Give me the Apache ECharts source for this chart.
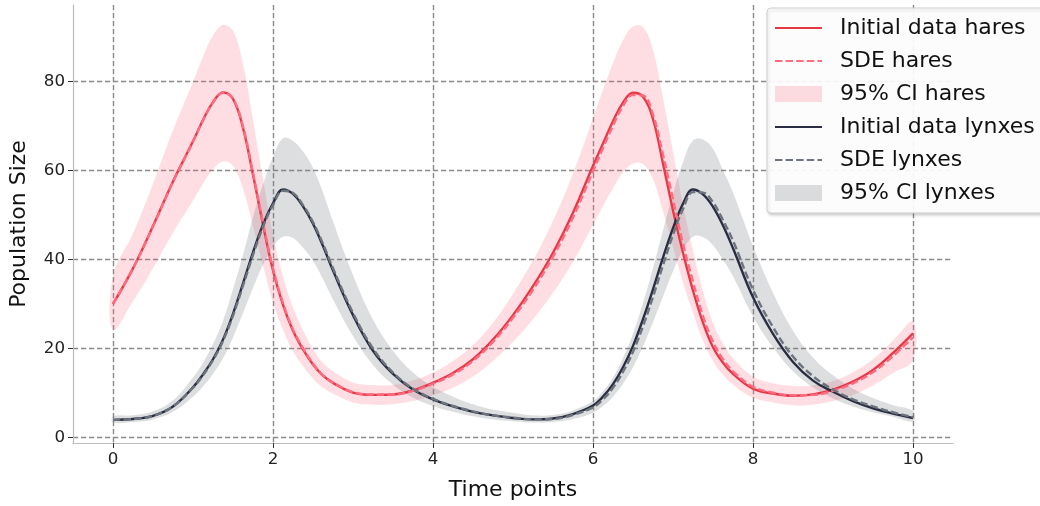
<!DOCTYPE html>
<html>
<head>
<meta charset="utf-8">
<script src="https://cdn.jsdelivr.net/npm/echarts@6/dist/echarts.min.js"></script>
<style>
html,body{margin:0;padding:0;background:#fff;}
#chart{width:1040px;height:506px;}
</style>
</head>
<body>
<div id="chart"></div>
<script>
const timePoints = [0,0.25,0.5,0.75,1,1.125,1.25,1.375,1.5,1.625,1.75,1.875,2,2.125,2.25,2.375,2.5,2.625,2.75,3,3.25,3.5,3.75,4,4.25,4.5,4.75,5,5.25,5.5,5.75,6,6.125,6.25,6.375,6.5,6.625,6.75,6.875,7,7.125,7.25,7.375,7.5,7.625,7.75,8,8.25,8.5,8.75,9,9.25,9.5,9.75,10];

const initialHares = [30.0,38.0,47.5,57.5,66.5,71.3,75.3,77.5,76.0,69.5,59.0,47.8,37.5,29.8,24.0,19.8,16.4,13.9,12.3,10.1,9.6,9.7,10.6,12.3,14.5,17.6,22.0,27.5,34.0,41.5,50.5,61.0,66.0,71.0,75.2,77.4,76.5,71.5,61.5,51.0,41.5,33.0,25.8,20.3,16.8,14.3,11.0,9.9,9.4,9.7,10.8,12.6,15.2,19.0,23.4];
const sdeHares = [30.0,38.0,47.4,57.4,66.4,71.2,75.2,77.4,76.1,69.8,59.4,48.3,38.0,30.2,24.3,20.1,16.6,14.0,12.4,10.2,9.7,9.7,10.5,12.1,14.2,17.2,21.5,26.9,33.2,40.6,49.4,59.8,65.0,70.0,74.4,76.9,76.8,72.5,63.5,53.5,43.5,35.0,27.3,21.5,17.6,14.9,11.4,10.1,9.5,9.6,10.5,12.2,14.7,18.3,22.5];
const haresLow = [24.2,30.6,38.0,46.0,53.2,57.0,60.2,62.0,61.0,55.8,47.5,38.6,30.4,24.2,19.4,16.1,13.3,11.2,9.9,7.9,7.4,7.5,8.2,9.5,11.2,13.7,17.2,21.5,26.6,32.5,39.5,47.8,52.0,56.0,59.5,61.5,61.4,58.0,50.8,42.8,34.8,28.0,21.8,17.2,14.1,11.9,9.0,7.9,7.3,7.4,8.2,9.6,11.7,14.5,17.4];
const haresHigh = [36.3,45.8,57.0,69.0,79.8,85.5,90.2,92.6,91.3,83.8,71.3,58.0,45.6,36.2,29.2,24.1,19.9,16.8,14.9,12.4,11.8,11.8,12.8,14.6,17.2,20.8,25.8,32.3,39.8,48.7,59.3,71.7,78.0,84.0,89.2,92.2,92.1,87.0,76.2,64.2,52.2,42.0,32.8,25.8,21.1,17.9,13.7,12.2,11.6,11.7,12.7,14.7,17.6,21.8,26.0];

const initialLynxes = [4.0,4.2,4.9,7.0,11.3,14.2,17.6,22.0,27.8,34.6,41.6,47.8,52.6,55.7,54.7,51.9,48.0,43.0,37.5,27.5,19.5,14.3,10.8,8.6,7.0,5.8,5.0,4.4,4.1,4.3,5.3,7.2,9.2,12.0,15.8,20.6,26.6,33.3,40.4,47.0,52.5,55.7,54.6,51.8,47.6,42.5,31.5,23.3,17.0,12.8,10.3,8.2,6.6,5.4,4.4];
const sdeLynxes = [4.0,4.2,4.9,7.0,11.2,14.0,17.4,21.7,27.4,34.1,41.0,47.3,52.2,55.4,54.9,52.2,48.4,43.5,38.0,28.0,20.0,14.6,11.0,8.7,7.1,5.9,5.0,4.5,4.1,4.2,5.1,6.8,8.6,11.2,14.8,19.3,25.0,31.6,38.7,45.5,51.3,55.1,55.0,52.8,48.8,44.2,33.2,24.8,18.2,13.8,10.8,8.6,7.0,5.7,4.6];
const lynxesLow = [3.4,3.5,4.1,5.8,9.2,11.5,14.3,17.8,22.5,28.0,33.6,38.8,42.8,45.1,44.8,42.6,39.7,35.6,31.0,22.8,16.3,11.9,9.0,7.1,5.8,4.8,4.1,3.7,3.4,3.5,4.2,5.6,7.1,9.2,12.1,15.8,20.5,25.9,31.7,37.3,42.1,45.1,45.0,43.2,39.9,36.2,27.2,20.3,14.9,11.3,8.8,7.0,5.7,4.7,3.7];
const lynxesHigh = [4.8,5.0,5.9,8.4,13.5,16.8,21.0,26.2,33.3,41.0,49.5,56.8,63.0,67.2,66.6,64.2,60.5,55.0,48.5,36.5,26.5,19.5,14.6,11.4,9.2,7.5,6.3,5.6,5.0,5.1,6.1,8.2,10.4,13.5,17.9,23.3,30.2,38.0,46.5,54.7,61.8,66.7,66.9,64.8,60.0,55.0,43.0,32.5,24.0,18.0,14.0,11.0,8.9,7.3,6.0];

const xTicks = [0,2,4,6,8,10];
const yTicks = [0,20,40,60,80];

const FONT = 'DejaVu Sans';
const RED = '#e63946';
const PINK = '#ff6b81';
const PINK_FILL = 'rgba(255,107,129,0.22)';
const NAVY = '#2b2d42';
const GRAY = '#6c757d';
const GRAY_FILL = 'rgba(108,117,125,0.24)';
const SMOOTH = 0.4;

const pairs = (ys) => timePoints.map((t, i) => [t, ys[i]]);

function band(name, lo, hi, fill) {
  return {
    name: name, type: 'custom', coordinateSystem: 'cartesian2d',
    data: [[timePoints[0], lo[0]]], clip: true, silent: true, z: 1,
    itemStyle: {color: fill},
    encode: {x: 0, y: 1},
    renderItem: function (params, api) {
      const pts = [];
      for (let i = 0; i < timePoints.length; i++) pts.push(api.coord([timePoints[i], hi[i]]));
      for (let i = timePoints.length - 1; i >= 0; i--) pts.push(api.coord([timePoints[i], lo[i]]));
      return {
        type: 'polygon',
        shape: {points: pts, smooth: SMOOTH},
        style: {fill: fill, stroke: null}
      };
    }
  };
}
function line(name, ys, color, dashed, z) {
  return {
    name: name, type: 'line', data: pairs(ys), smooth: SMOOTH, symbol: 'none',
    color: color, itemStyle: {color: color},
    lineStyle: {color: color, width: 2.4, type: dashed ? [7.4, 3.2] : 'solid'}, z: z
  };
}

const chart = echarts.init(document.getElementById('chart'), null, {renderer: 'canvas'});
const gridLine = {show: true, showMinLine: true, showMaxLine: true, lineStyle: {color: '#8a8a8a', width: 1.4, type: [5.2, 2.8]}};
const hiddenSymbol = {opacity: 0, borderWidth: 0};
chart.setOption({
  animation: false,
  backgroundColor: '#ffffff',
  textStyle: {fontFamily: FONT},
  grid: {left: 72, right: 87, top: 5, bottom: 63, containLabel: false},
  xAxis: {
    type: 'value', min: -0.5, max: 10.5,
    name: 'Time points', nameLocation: 'middle', nameGap: 36,
    nameTextStyle: {fontSize: 22, color: '#111', fontFamily: FONT},
    axisLine: {show: true, onZero: false, lineStyle: {color: '#bdbdbd', width: 1.2}},
    axisTick: {show: true, customValues: xTicks, length: 5, lineStyle: {color: '#333', width: 1}},
    axisLabel: {customValues: xTicks, fontSize: 16.7, color: '#222', margin: 8, fontFamily: FONT},
    splitLine: gridLine
  },
  yAxis: {
    type: 'value', min: -1.2, max: 97.1,
    name: 'Population Size', nameLocation: 'middle', nameGap: 43,
    nameTextStyle: {fontSize: 22, color: '#111', fontFamily: FONT},
    axisLine: {show: true, onZero: false, lineStyle: {color: '#bdbdbd', width: 1.2}},
    axisTick: {show: true, customValues: yTicks, length: 5, lineStyle: {color: '#333', width: 1}},
    axisLabel: {customValues: yTicks, fontSize: 16.7, color: '#222', margin: 8, fontFamily: FONT},
    splitLine: gridLine
  },
  legend: {
    orient: 'vertical', left: 767, top: 8,
    padding: [9, 10, 9, 7],
    itemWidth: 47, itemHeight: 16, itemGap: 11,
    backgroundColor: 'rgba(255,255,255,0.92)',
    borderColor: '#cfcfcf', borderWidth: 1, borderRadius: 4,
    shadowColor: 'rgba(0,0,0,0.18)', shadowBlur: 3, shadowOffsetX: 1, shadowOffsetY: 2,
    textStyle: {fontSize: 22, color: '#111', fontFamily: FONT, padding: [0, 0, 0, 13]},
    selectedMode: false,
    data: [
      {name: 'Initial data hares', itemStyle: hiddenSymbol},
      {name: 'SDE hares', itemStyle: hiddenSymbol},
      {name: '95% CI hares', icon: 'rect', itemStyle: {color: PINK_FILL}},
      {name: 'Initial data lynxes', itemStyle: hiddenSymbol},
      {name: 'SDE lynxes', itemStyle: hiddenSymbol},
      {name: '95% CI lynxes', icon: 'rect', itemStyle: {color: GRAY_FILL}}
    ]
  },
  series: [
    band('95% CI hares', haresLow, haresHigh, PINK_FILL),
    band('95% CI lynxes', lynxesLow, lynxesHigh, GRAY_FILL),
    line('Initial data hares', initialHares, RED, false, 3),
    line('SDE hares', sdeHares, PINK, true, 4),
    line('Initial data lynxes', initialLynxes, NAVY, false, 3),
    line('SDE lynxes', sdeLynxes, GRAY, true, 4)
  ]
});
</script>
</body>
</html>
